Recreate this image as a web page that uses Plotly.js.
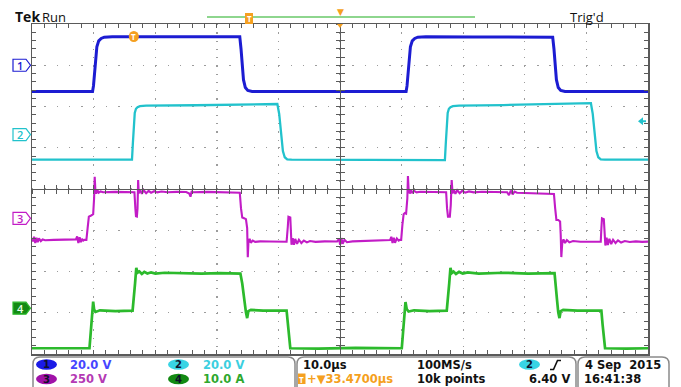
<!DOCTYPE html>
<html>
<head>
<meta charset="utf-8">
<script src="https://cdn.plot.ly/plotly-3.0.1.min.js"></script>
<style>
  html, body { margin: 0; padding: 0; background: #fff; overflow: hidden; }
  #scope { width: 681px; height: 387px; }
</style>
</head>
<body>
<div id="scope"></div>
<script>
// ---- acquisition settings ----
const timePerDiv = 10;          // µs / div
const horizPos = 33.47;         // µs from trigger to screen centre
const sampleRate = '100MS/s';
const recordLength = '10k points';
const trigSource = 2;
const trigLevel = 6.40;         // V
const stampDate = '4 Sep\u00a0\u00a02015';
const stampTime = '16:41:38';

// ---- channel settings ----
const chNames  = ['1', '2', '3', '4'];
const chScales = [20, 20, 250, 10];       // per division
const chUnits  = ['V', 'V', 'V', 'A'];
const chOffsets = [3.0, 1.32, -0.71, -2.89]; // ground marker, divisions from centre

// ---- waveform samples [time µs, value] ----
const ch1Samples = [
  [-16.6,-12.7],[-6.7,-12.7],[-6.55,-10],[-6.4,-5],[-6.2,4],[-6.0,9],[-5.7,11.8],[-5.3,13.0],[-4.8,13.6],[-3.5,13.8],
  [2.0,13.8],[8.0,13.7],[14.0,13.8],[17.2,13.8],[17.4,8],[17.6,0],[17.8,-7],[18.1,-10.8],[18.5,-12.2],[19.2,-12.7],
  [30.0,-12.6],[44.2,-12.7],[44.35,-10],[44.5,-5],[44.7,4],[44.9,9],[45.2,11.8],[45.6,13.0],[46.1,13.6],[47.4,13.8],
  [55.0,13.7],[62.0,13.7],[68.0,13.6],[68.2,8],[68.4,0],[68.6,-7],[68.9,-10.8],[69.3,-12.2],[70.0,-12.7],[83.6,-12.7]
];
const ch2Samples = [
  [-16.6,-12.2],[-0.3,-12.2],[-0.15,-4],[0.0,6],[0.15,10.5],[0.35,12.5],[0.6,13.3],[1.0,13.8],[2.0,14.0],[10.0,14.2],
  [18.0,14.5],[23.3,14.8],[23.6,10],[23.9,0],[24.2,-8],[24.5,-11],[24.9,-12],[25.6,-12.2],[35.0,-12.3],[50.5,-12.4],
  [50.65,-4],[50.8,6],[50.95,10.5],[51.15,12.5],[51.4,13.3],[51.8,13.8],[52.8,14.0],[60.0,14.3],[68.0,15.0],[74.2,15.2],
  [74.5,10],[74.8,0],[75.1,-8],[75.4,-11],[75.8,-12],[76.5,-12.2],[83.6,-12.2]
];
const ch3Samples = [
  [-16.6,-125],[-16.4,-140],[-16.2,-112],[-16.0,-150],[-15.8,-118],[-15.6,-145],[-15.4,-122],[-15.1,-138],[-14.8,-128],[-14.4,-133],
  [-13.0,-131],[-11.0,-130],[-10.0,-132],[-9.4,-128],[-9.2,-110],[-9.0,-150],[-8.8,-115],[-8.6,-145],[-8.4,-125],[-8.2,-135],[-8.0,-130],
  [-7.7,-131],[-7.5,-60],[-7.3,10],[-7.0,15],[-6.8,20],[-6.6,25],[-6.45,120],[-6.35,252],[-6.25,175],[-6.1,150],[-5.9,170],[-5.7,155],
  [-5.4,163],[-5.0,158],[-3.0,160],[-1.0,159],
  [0.1,158],[0.25,60],[0.35,12],[0.5,10],[0.6,60],[0.7,232],[0.8,150],[1.0,175],[1.3,148],[1.6,170],[2.0,152],[2.4,166],[2.8,155],
  [3.3,164],[3.8,157],[4.5,162],[5.5,158],[7.0,160],[8.5,159],[9.0,150],[9.2,131],[9.4,165],[9.6,158],[12,160],[15,158],[17.0,157],
  [17.2,155],[17.4,60],[17.6,5],[17.9,0],[18.2,-5],[18.4,-60],[18.5,-236],[18.6,-150],[18.8,-125],[19.0,-148],[19.3,-135],[19.7,-143],
  [20.5,-140],[22,-141],[24.8,-142],
  [25.0,-50],[25.1,9.7],[25.4,5],[25.5,-60],[25.6,-160],[25.8,-120],[26.0,-160],[26.2,-125],[26.5,-155],[26.8,-130],[27.2,-150],
  [27.6,-135],[28.1,-146],[28.6,-138],[29.5,-143],[31,-140],[33,-141],
  [33.3,-125],[33.5,-160],[33.7,-120],[33.9,-155],[34.2,-130],[34.6,-145],[35.5,-140],[38,-138],[39.5,-135],
  [41.6,-132],[41.8,-112],[42.0,-150],[42.2,-118],[42.4,-148],[42.7,-122],[43.0,-135],[43.2,-131],
  [43.4,-131],[43.6,-40],[43.8,25],[44.0,32],[44.2,28],[44.4,120],[44.5,256],[44.6,180],[44.8,150],[45.0,172],[45.2,152],[45.5,166],
  [45.9,157],[46.5,161],[48,160],[50,159],
  [50.7,158],[50.85,60],[51.0,9.7],[51.3,9.7],[51.45,80],[51.6,232],[51.75,150],[51.95,174],[52.2,148],[52.5,170],[52.9,152],
  [53.3,166],[53.8,155],[54.4,163],[55.2,157],[56.5,161],[58,159],
  [60.6,158],[60.9,140],[61.2,168],[61.5,145],[61.8,162],[62.2,155],[64,152],[67,148],
  [68.2,147],[68.4,60],[68.6,-10],[68.9,-10],[69.2,-20],[69.3,-100],[69.4,-235],[69.55,-150],[69.75,-128],[70.0,-150],[70.3,-132],
  [70.7,-146],[71.3,-138],[72.5,-142],[75.8,-142],
  [75.9,-60],[76.0,0],[76.3,-5],[76.45,-80],[76.55,-165],[76.75,-118],[76.95,-162],[77.2,-124],[77.5,-156],[77.8,-130],[78.2,-150],
  [78.6,-134],[79.1,-147],[79.7,-138],[80.5,-144],[81.5,-140],[82.5,-143],[83.6,-141]
];
const ch4Samples = [
  [-16.6,-9.7],[-10,-9.6],[-7.2,-9.7],[-7.0,-6],[-6.8,-2],[-6.6,1.6],[-6.45,-0.3],[-6.2,-0.9],[-5.5,-0.5],[-3,-0.7],[-0.2,-0.6],
  [0.0,2],[0.2,6],[0.4,9.8],[0.6,8.6],[0.9,8.9],[1.3,8.3],[1.7,8.8],[2.2,8.4],[2.8,8.7],[3.5,8.4],[5,8.6],[8,8.5],[11,8.4],[14,8.5],
  [17.3,8.4],[17.6,6],[17.9,2],[18.2,-1],[18.4,-2.4],[18.6,-0.7],[19.0,-0.4],[21,-0.6],[24.8,-0.6],[25.0,-4],[25.2,-8],[25.4,-9.7],
  [30,-9.8],[36,-9.6],[43.5,-9.7],[43.7,-6],[43.9,-2],[44.1,1.5],[44.3,-0.2],[44.6,-0.8],[45.5,-0.5],[48,-0.7],[50.8,-0.6],
  [51.0,2],[51.2,6],[51.4,9.8],[51.6,8.5],[51.9,8.9],[52.3,8.3],[52.8,8.8],[53.4,8.4],[54.2,8.7],[56,8.4],[60,8.6],[64,8.4],
  [68.3,8.5],[68.5,6],[68.7,2],[68.9,-1],[69.1,-2.4],[69.3,-0.7],[69.7,-0.4],[72,-0.6],[75.9,-0.6],[76.1,-4],[76.3,-8],[76.5,-9.7],
  [80,-9.8],[83.6,-9.7]
];
const chSamples = [ch1Samples, ch2Samples, ch3Samples, ch4Samples];

// ---- look ----
const chColors    = ['#1c1cd2', '#22c2cc', '#c21cc6', '#2cba2c'];
const chTextCols  = ['#4646ff', '#3ccfe0', '#b43ab4', '#2ea82e'];
const chBadgeCols = ['#1a1ae6', '#38d4e4', '#a012a8', '#138a13'];
const chWidths    = [3.0, 2.3, 2.1, 2.7];
const ORANGE = '#f5a020';
const GRAT = '#5a5a5a';
const FONT = 'Open Sans, DejaVu Sans, sans-serif';
const PANEL_FONT = 'DejaVu Sans, sans-serif';

// plot box in page pixels
const L = 32, T = 24, PW = 616, PH = 330;
const px2x = p => (p - L) / PW;
const px2y = p => (T + PH - p) / PH;

const xRange = [horizPos - 5 * timePerDiv, horizPos + 5 * timePerDiv];
const chRange = i => [(-4 - chOffsets[i]) * chScales[i], (4 - chOffsets[i]) * chScales[i]];
const fmtScale = i => chScales[i].toPrecision(3) + ' ' + chUnits[i];

// ---- traces ----
const yRefs = ['y', 'y2', 'y3', 'y4'];
const traces = chSamples.map((s, i) => ({
  type: 'scatter', mode: 'lines',
  x: s.map(p => p[0]), y: s.map(p => p[1]),
  xaxis: 'x', yaxis: yRefs[i],
  line: { color: chColors[i], width: chWidths[i] },
  hoverinfo: 'skip'
}));
// empty carriers so the centre cross-hair axes get drawn
traces.push({ type: 'scatter', mode: 'lines', x: [], y: [], xaxis: 'x2', yaxis: 'y5', hoverinfo: 'skip' });
traces.push({ type: 'scatter', mode: 'lines', x: [], y: [], xaxis: 'x3', yaxis: 'y6', hoverinfo: 'skip' });

// ---- graticule ----
const tickStyle = (dir, dt, t0) => ({
  ticks: dir, ticklen: 4, tickwidth: 1, tickcolor: GRAT, tick0: t0, dtick: dt,
  minor: { ticks: dir, ticklen: 4, tickwidth: 1, tickcolor: GRAT, tick0: t0, dtick: dt / 5, showgrid: false },
  showticklabels: false, zeroline: false, fixedrange: true
});

const layout = {
  width: 681, height: 387,
  margin: { l: L, r: 681 - L - PW, t: T, b: 387 - T - PH, pad: 0 },
  paper_bgcolor: '#ffffff', plot_bgcolor: '#ffffff',
  showlegend: false,
  xaxis: Object.assign({}, tickStyle('inside', timePerDiv, horizPos), {
    range: xRange, showline: true, linecolor: GRAT, linewidth: 1.5, mirror: 'ticks',
    showgrid: true, gridcolor: '#9c9c9c', gridwidth: 1.4, griddash: '1.4px,6.85px'
  }),
  yaxis: Object.assign({}, tickStyle('inside', chScales[0], 0), {
    range: chRange(0), showline: true, linecolor: GRAT, linewidth: 1.5, mirror: 'ticks',
    showgrid: true, gridcolor: '#9c9c9c', gridwidth: 1.4, griddash: '1.4px,10.92px'
  }),
  yaxis2: { overlaying: 'y', range: chRange(1), visible: false, fixedrange: true },
  yaxis3: { overlaying: 'y', range: chRange(2), visible: false, fixedrange: true },
  yaxis4: { overlaying: 'y', range: chRange(3), visible: false, fixedrange: true },
  // centre cross-hair with ticks on both sides
  xaxis2: Object.assign({}, tickStyle('inside', timePerDiv, horizPos), {
    overlaying: 'x', anchor: 'free', position: 0.5, range: xRange,
    showline: true, linecolor: GRAT, linewidth: 1.2, showgrid: false
  }),
  xaxis3: Object.assign({}, tickStyle('outside', timePerDiv, horizPos), {
    overlaying: 'x', anchor: 'free', position: 0.5, range: xRange,
    showline: true, linecolor: GRAT, linewidth: 1.2, showgrid: false
  }),
  yaxis5: Object.assign({}, tickStyle('inside', chScales[0], 0), {
    overlaying: 'y', anchor: 'free', position: 0.5, range: chRange(0),
    showline: true, linecolor: GRAT, linewidth: 1.2, showgrid: false
  }),
  yaxis6: Object.assign({}, tickStyle('outside', chScales[0], 0), {
    overlaying: 'y', anchor: 'free', position: 0.5, range: chRange(0),
    showline: true, linecolor: GRAT, linewidth: 1.2, showgrid: false
  }),
  shapes: [],
  annotations: []
};

const S = layout.shapes, A = layout.annotations;

function text(px, py, str, color, size, opts) {
  return Object.assign({
    xref: 'paper', yref: 'paper', x: px2x(px), y: px2y(py), text: str, showarrow: false,
    xanchor: 'left', yanchor: 'middle', borderpad: 0,
    font: { family: PANEL_FONT, size: size, color: color, weight: 'bold' }
  }, opts || {});
}
function ellipse(x0, y0, x1, y1, fill) {
  S.push({ type: 'circle', xref: 'paper', yref: 'paper', x0: px2x(x0), x1: px2x(x1),
           y0: px2y(y1), y1: px2y(y0), fillcolor: fill, line: { width: 0 } });
}
function roundBox(x0, y0, x1, y1, r) {
  const X = px2x, Y = px2y;
  const d = `M${X(x0 + r)},${Y(y0)} L${X(x1 - r)},${Y(y0)} Q${X(x1)},${Y(y0)} ${X(x1)},${Y(y0 + r)} ` +
            `L${X(x1)},${Y(y1 - r)} Q${X(x1)},${Y(y1)} ${X(x1 - r)},${Y(y1)} L${X(x0 + r)},${Y(y1)} ` +
            `Q${X(x0)},${Y(y1)} ${X(x0)},${Y(y1 - r)} L${X(x0)},${Y(y0 + r)} Q${X(x0)},${Y(y0)} ${X(x0 + r)},${Y(y0)} Z`;
  S.push({ type: 'path', xref: 'paper', yref: 'paper', path: d, line: { color: '#8a8a8a', width: 1.5 } });
}

// ---- header ----
A.push(text(14, 17, 'Tek', '#111', 14, { font: { family: FONT, size: 14, color: '#111', weight: 'bold' } }));
A.push(text(41, 17, 'Run', '#111', 13, { font: { family: FONT, size: 13, color: '#111', weight: 500 } }));
A.push(text(569, 17, "Trig'd", '#111', 13, { font: { family: FONT, size: 13, color: '#111', weight: 500 } }));
// record view bar with trigger point
S.push({ type: 'line', xref: 'paper', yref: 'paper', x0: px2x(207), x1: px2x(475), y0: px2y(17), y1: px2y(17),
         line: { color: '#8ed68e', width: 2 } });
S.push({ type: 'rect', xref: 'paper', yref: 'paper', x0: px2x(245), x1: px2x(253), y0: px2y(24), y1: px2y(13),
         fillcolor: ORANGE, line: { width: 0 } });
A.push(text(249, 18.5, 'T', '#fff', 8, { xanchor: 'center', font: { family: FONT, size: 8, color: '#fff', weight: 'bold' } }));
// expansion point marker
A.push(text(340, 12, '▼', ORANGE, 9, { xanchor: 'center' }));
S.push({ type: 'path', xref: 'paper', yref: 'paper',
         path: `M${px2x(337)},${px2y(24)} L${px2x(343)},${px2y(24)} L${px2x(340)},${px2y(28)} Z`,
         fillcolor: ORANGE, line: { width: 0 } });
// trigger position on the screen (t = 0)
S.push({ type: 'circle', xref: 'x', xsizemode: 'pixel', xanchor: 0, x0: -5, x1: 5,
         yref: 'paper', y0: px2y(42), y1: px2y(31), fillcolor: ORANGE, line: { width: 0 } });
A.push({ xref: 'x', yref: 'paper', x: 0, y: px2y(36.5), text: 'T', showarrow: false, xanchor: 'center', yanchor: 'middle',
         font: { family: FONT, size: 8, color: '#fff', weight: 'bold' } });

// ---- channel ground markers on the left ----
chNames.forEach((n, i) => {
  const filled = i === 3;
  S.push({ type: 'path', xref: 'paper', yref: yRefs[i], ysizemode: 'pixel', yanchor: 0,
           path: `M${px2x(13)},6 L${px2x(26)},6 L${px2x(30.5)},0 L${px2x(26)},-6 L${px2x(13)},-6 Z`,
           fillcolor: filled ? chBadgeCols[i] : '#ffffff', line: { color: chColors[i], width: 1.2 } });
  A.push({ xref: 'paper', yref: yRefs[i], x: px2x(20), y: 0, text: n, showarrow: false,
           xanchor: 'center', yanchor: 'middle',
           font: { family: FONT, size: 11, color: filled ? '#e8ffe8' : chColors[i], weight: 600 } });
});

// trigger level indicator on the right
S.push({ type: 'path', xref: 'paper', yref: yRefs[trigSource - 1], ysizemode: 'pixel', yanchor: trigLevel,
         path: `M${px2x(638)},0 L${px2x(643)},4 L${px2x(643)},1 L${px2x(646)},1 L${px2x(646)},-1 L${px2x(643)},-1 L${px2x(643)},-4 Z`,
         fillcolor: chColors[trigSource - 1], line: { width: 0 } });

// ---- readout panel ----
roundBox(33, 357, 295, 402, 7);
roundBox(297, 357, 576, 402, 7);
roundBox(578, 357, 669, 402, 7);

const PS = 11.5;
const row = [364.5, 379];
const badgePos = [[36, 0], [168, 0], [36, 1], [168, 1]];
const textX = [69, 202, 69, 202];
chNames.forEach((n, i) => {
  const [bx, r] = badgePos[i];
  ellipse(bx, row[r] - 5.2, bx + 21, row[r] + 5.2, chBadgeCols[i]);
  A.push(text(bx + 10.5, row[r], n, '#10102a', 10, { xanchor: 'center' }));
  A.push(text(textX[i], row[r], fmtScale(i), chTextCols[i], PS));
});

A.push(text(302, row[0], timePerDiv.toFixed(1) + 'µs', '#111', PS));
S.push({ type: 'rect', xref: 'paper', yref: 'paper', x0: px2x(298), x1: px2x(305.5), y0: px2y(384), y1: px2y(373.5),
         fillcolor: ORANGE, line: { width: 0 } });
A.push(text(301.7, row[1], 'T', '#fff', 8, { xanchor: 'center', font: { family: FONT, size: 8, color: '#fff', weight: 'bold' } }));
A.push(text(306, row[1], '+▼' + horizPos.toFixed(4) + 'µs', ORANGE, PS));
A.push(text(416, row[0], sampleRate, '#111', PS));
A.push(text(416, row[1], recordLength, '#111', PS));

ellipse(519, row[0] - 5.2, 540, row[0] + 5.2, chBadgeCols[trigSource - 1]);
A.push(text(529.5, row[0], String(trigSource), '#10102a', 10, { xanchor: 'center' }));
S.push({ type: 'path', xref: 'paper', yref: 'paper',
         path: `M${px2x(550)},${px2y(369.5)} L${px2x(553.5)},${px2y(369.5)} L${px2x(557.5)},${px2y(360.5)} L${px2x(561)},${px2y(360.5)}`,
         line: { color: '#111', width: 1.6 } });
A.push(text(571, row[1], trigLevel.toFixed(2) + ' V', '#111', PS, { xanchor: 'right' }));

A.push(text(584, row[0], stampDate, '#111', PS));
A.push(text(583, row[1], stampTime, '#111', PS));

Plotly.newPlot('scope', traces, layout, { staticPlot: true, displayModeBar: false });
</script>
</body>
</html>
